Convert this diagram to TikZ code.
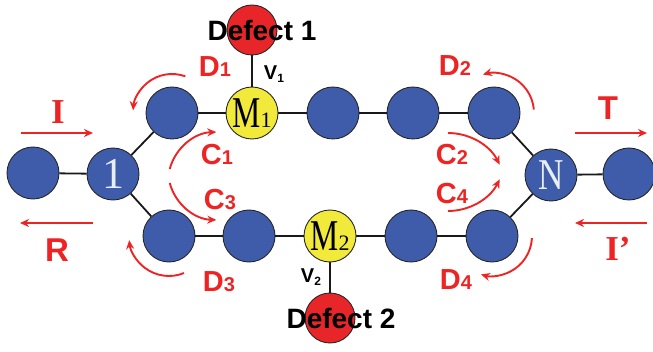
\documentclass[tikz,border=0pt]{standalone}
\usepackage{fontspec}
\setmainfont{Liberation Serif}
\newfontfamily\sansfont{Liberation Sans}
\usetikzlibrary{arrows.meta}

\definecolor{ballblue}{RGB}{62,92,170}
\definecolor{ballyellow}{RGB}{242,234,58}
\definecolor{defred}{RGB}{232,38,42}
\definecolor{lblred}{RGB}{238,36,36}
\definecolor{numwhite}{RGB}{232,238,246}

\newcommand\fs[1]{\fontsize{#1}{#1}\selectfont}
\newcommand\sublbl[2]{#1{\fs{20}#2}}

\begin{document}
\begin{tikzpicture}[x=1pt,y=1pt,
  site/.style={circle,draw=black!85,line width=0.9pt,minimum size=52pt,inner sep=0pt,fill=ballblue},
  msite/.style={site,fill=ballyellow},
  dsite/.style={site,fill=defred,minimum size=50pt},
  bond/.style={line width=1.8pt,black!90},
  flow/.style={lblred,line width=1.9pt,-{Stealth[length=9pt,width=8pt]}},
  redlbl/.style={text=lblred,font=\sansfont\bfseries\fs{29},inner sep=0pt},
  biglbl/.style={text=lblred,font=\sansfont\bfseries\fs{33},inner sep=0pt},
  seriflbl/.style={text=lblred,font=\bfseries\fs{35},inner sep=0pt},
  deflbl/.style={font=\sansfont\bfseries\fs{28},inner sep=0pt},
  vlbl/.style={font=\sansfont\bfseries\fs{20},inner sep=0pt},
  sitetext/.style={inner sep=0pt,font=\fs{44}}
]
\useasboundingbox (0,0) rectangle (653,351);

% sites of the chain and the ring
\node[site]  (a0) at (33,178) {};
\node[site]  (n1) at (113,177) {};
\node[site]  (u1) at (172,238) {};
\node[msite] (m1) at (252,238) {};
\node[site]  (u3) at (333,238) {};
\node[site]  (u4) at (413,238) {};
\node[site]  (u5) at (494,238) {};
\node[site]  (l1) at (169,115) {};
\node[site]  (l2) at (249,115) {};
\node[msite] (m2) at (330,115) {};
\node[site]  (l4) at (411,115) {};
\node[site]  (l5) at (492,115) {};
\node[site]  (nn) at (551,176) {};
\node[site]  (z0) at (629,177) {};
\node[dsite] (d1) at (252,321) {};
\node[dsite] (d2) at (330,33) {};

% bonds
\draw[bond] (a0) -- (n1);
\draw[bond] (n1) -- (u1);
\draw[bond] (u1) -- (m1);
\draw[bond] (m1) -- (u3);
\draw[bond] (u3) -- (u4);
\draw[bond] (u4) -- (u5);
\draw[bond] (u5) -- (nn);
\draw[bond] (n1) -- (l1);
\draw[bond] (l1) -- (l2);
\draw[bond] (l2) -- (m2);
\draw[bond] (m2) -- (l4);
\draw[bond] (l4) -- (l5);
\draw[bond] (l5) -- (nn);
\draw[bond] (nn) -- (z0);
\draw[bond] (m1) -- (d1);
\draw[bond] (m2) -- (d2);

% site labels
\node[sitetext,text=numwhite] (t1) at (n1) {1};
\node[sitetext,text=numwhite] (tn) at (nn) {\scalebox{0.8}[1]{N}};
\node[sitetext] (tm1) at (m1) {\scalebox{0.72}[1]{M}{\fs{22}1}};
\node[sitetext] (tm2) at (m2) {\scalebox{0.72}[1]{M}{\fs{22}2}};

% defects and couplings
\node[deflbl] (dl1) at (262,321) {Defect 1};
\node[deflbl] (dl2) at (341,33) {Defect 2};
\node[vlbl] (v1) at (274,277) {V{\fs{12}\raisebox{-3pt}{1}}};
\node[vlbl] (v2) at (311,74) {V{\fs{12}\raisebox{-3pt}{2}}};

% incoming, reflected and transmitted waves
\coordinate (ia) at (21,218);  \coordinate (ib) at (93,218);
\coordinate (ra) at (93,128);  \coordinate (rb) at (20,128);
\coordinate (ta) at (575,218); \coordinate (tb) at (647,218);
\coordinate (pa) at (647,128); \coordinate (pb) at (575,128);
\draw[flow] (ia) -- (ib);
\draw[flow] (ra) -- (rb);
\draw[flow] (ta) -- (tb);
\draw[flow] (pa) -- (pb);
\node[seriflbl] (li) at (58,239) {I};
\node[biglbl]   (lr) at (57,101) {R};
\node[biglbl]   (lt) at (608,243) {T};
\node[seriflbl] (lp) at (618,102) {I\textquoteright};

% decay paths around the ring
\draw[flow] ([shift={(70:39)}]u1.center) arc[start angle=70,end angle=176,radius=39];
\draw[flow] ([shift={(5:40)}]u5.center) arc[start angle=5,end angle=106,radius=40];
\draw[flow] ([shift={(-68:40)}]l1.center) arc[start angle=-68,end angle=-174,radius=40];
\draw[flow] ([shift={(-3:40)}]l5.center) arc[start angle=-3,end angle=-106,radius=40];
\node[redlbl] (ld1) at (215,284) {\sublbl{D}{1}};
\node[redlbl] (ld2) at (455,285) {\sublbl{D}{2}};
\node[redlbl] (ld3) at (219,69) {\sublbl{D}{3}};
\node[redlbl] (ld4) at (456,71) {\sublbl{D}{4}};

% circulating paths inside the ring
\coordinate (c1) at (218,169);
\coordinate (c3) at (218,181);
\coordinate (c2) at (448,160);
\coordinate (c4) at (448,198);
\draw[flow] ([shift={(165:50)}]c1) arc[start angle=165,end angle=92,radius=50];
\draw[flow] ([shift={(195:50)}]c3) arc[start angle=195,end angle=268,radius=50];
\draw[flow] ([shift={(90:58)}]c2) arc[start angle=90,end angle=27,radius=58];
\draw[flow] ([shift={(-90:58)}]c4) arc[start angle=-90,end angle=-27,radius=58];
\node[redlbl] (lc1) at (217,196) {\sublbl{C}{1}};
\node[redlbl] (lc3) at (220,151) {\sublbl{C}{3}};
\node[redlbl] (lc2) at (452,196) {\sublbl{C}{2}};
\node[redlbl] (lc4) at (452,157) {\sublbl{C}{4}};
\end{tikzpicture}
\end{document}
